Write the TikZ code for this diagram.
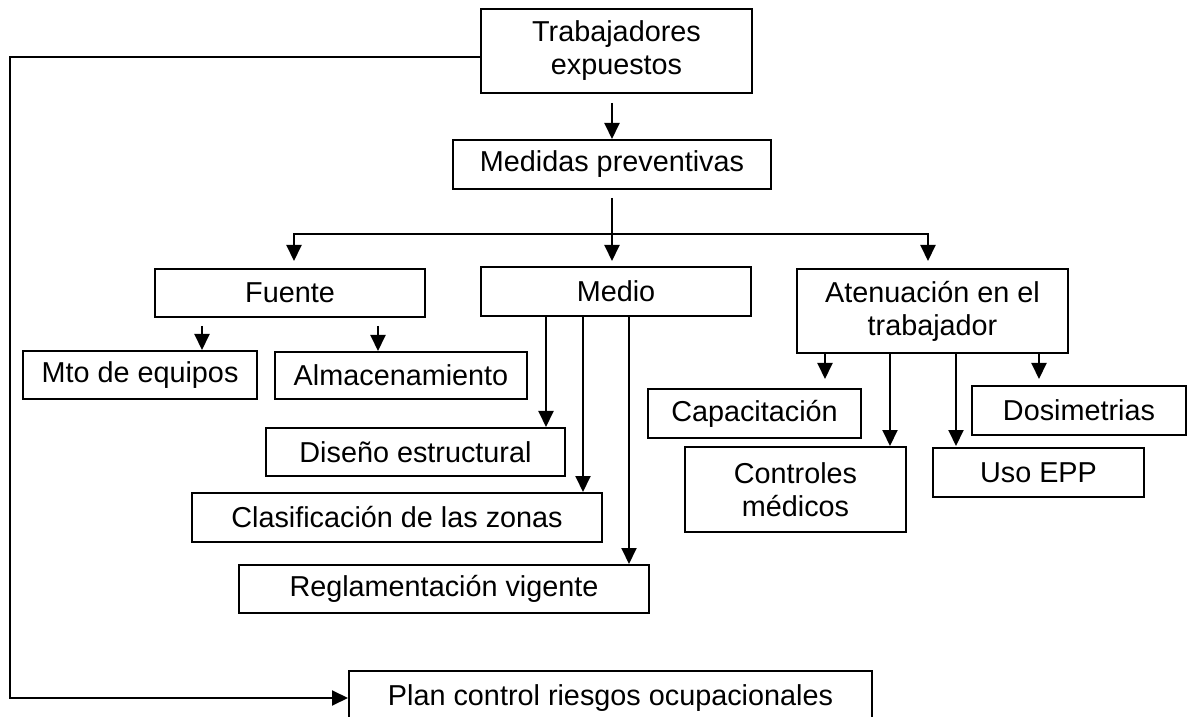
\documentclass[tikz,border=0pt]{standalone}
\usepackage{fontspec}
\setmainfont{Liberation Sans}
\usetikzlibrary{arrows.meta}

\begin{document}
\begin{tikzpicture}[x=0.5pt,y=-0.5pt,
    >={Triangle[width=7.5pt,length=8pt]},
    box/.style={draw, line width=1pt, inner sep=0pt, align=center,
      font=\fontsize{14.4}{16.5}\selectfont},
    link/.style={line width=1pt}]

    \useasboundingbox (0,0) rectangle (1191,717);

    % Boxes: name / centre x / centre y / width / height / text
    \foreach \Name/\X/\Y/\W/\H/\Text in {
      trab/616.5/51/135.5/42/Trabajadores\\expuestos,
      medidas/612/164.5/159/24.5/Medidas preventivas,
      fuente/290/293/135/24/Fuente,
      medio/616/291.5/135/24.5/Medio,
      atenua/932.5/311/135.5/42/Atenuación en el\\trabajador,
      mto/140/375/117/24/Mto de equipos,
      almac/401/375.5/126/23.5/Almacenamiento,
      diseno/415.5/452/149.5/24/Diseño estructural,
      clasif/397/517.5/205/24.5/Clasificación de las zonas,
      regla/444/589/205/24/Reglamentación vigente,
      capac/754.5/413.5/106.5/24.5/Capacitación,
      control/795.5/489.5/110.5/42.5/Controles\\médicos,
      uso/1038.5/472.5/105.5/24.5/Uso EPP,
      dosim/1079/410.5/107/24.5/Dosimetrias,
      plan/610.5/698/261.5/27/Plan control riesgos ocupacionales}
    \node[box, minimum width=\W pt, minimum height=\H pt] (\Name) at (\X,\Y) {\Text};

    % Trabajadores to medidas
    \draw[link,->,shorten <=4.5pt] (medidas.north |- trab.south) -- (medidas.north);

    % Split into the three groups
    \draw[link,shorten <=4pt] (medidas.south) -- (medidas.south |- 0,234) coordinate (split);
    \draw[link,->,shorten >=3.5pt] (split) -| ([xshift=2pt]fuente.north);
    \draw[link,->,shorten >=2.5pt] (split) -- (split |- medio.north);
    \draw[link,->,shorten >=3.5pt] (split) -| ([xshift=-2.25pt]atenua.north);

    % Fuente branches
    \draw[link,->,shorten <=4pt] ([xshift=31pt]mto.north |- fuente.south) -- ([xshift=31pt]mto.north);
    \draw[link,->,shorten <=4pt] ([xshift=-11.5pt]almac.north |- fuente.south) -- ([xshift=-11.5pt]almac.north);

    % Medio branches
    \foreach \Shift/\Name in {-35pt/diseno,-16.5pt/clasif,6.5pt/regla}
    \draw[link,->] ([xshift=\Shift]medio.south) -- ([xshift=\Shift]medio.south |- \Name.north);

    % Atenuacion branches
    \foreach \Shift/\Name/\Gap in {-53.75pt/capac/4.5pt,-21.25pt/control/0pt,11.75pt/uso/0.5pt,53.25pt/dosim/3pt}
    \draw[link,->,shorten >=\Gap] ([xshift=\Shift]atenua.south) -- ([xshift=\Shift]atenua.south |- \Name.north);

    % Back from the workers to the plan
    \draw[link,->] ([yshift=-3pt]trab.west) -- ++(-470,0) |- (plan.west);

\end{tikzpicture}
\end{document}
